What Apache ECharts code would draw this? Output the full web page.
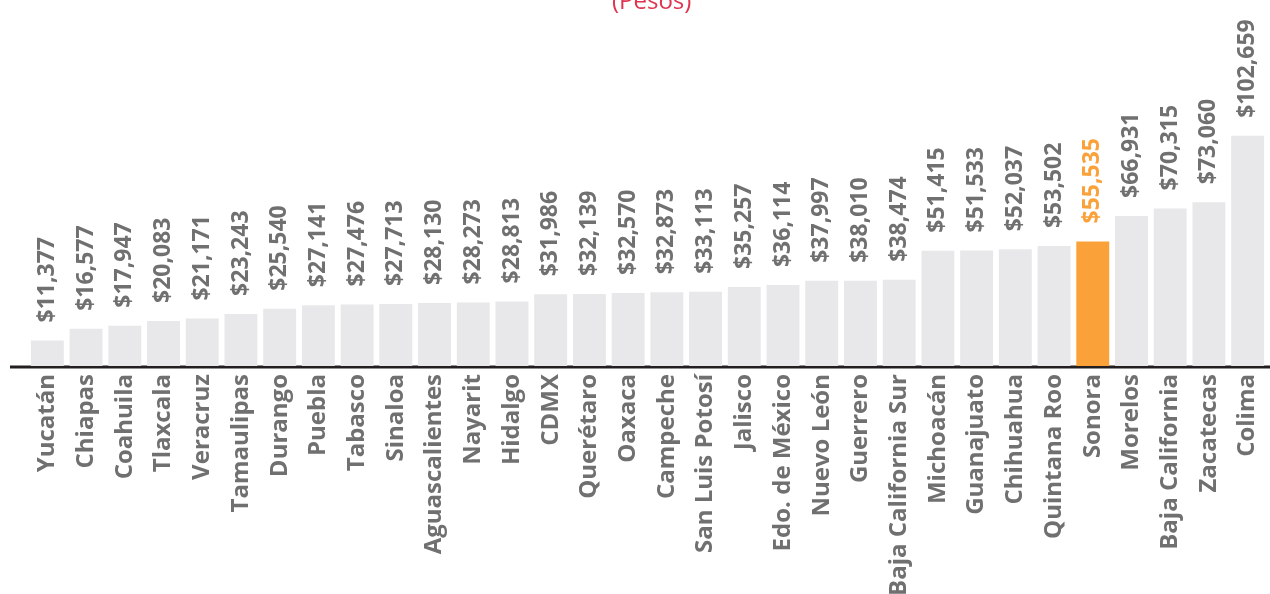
<!DOCTYPE html>
<html><head><meta charset="utf-8">
<script src="https://cdn.jsdelivr.net/npm/echarts@6/dist/echarts.min.js"></script>
<style>html,body{margin:0;padding:0;background:#fff}#c{width:1270px;height:594px}</style>
</head><body><div id="c"></div>
<script>
const categories = ["Yucatán","Chiapas","Coahuila","Tlaxcala","Veracruz","Tamaulipas","Durango","Puebla","Tabasco","Sinaloa","Aguascalientes","Nayarit","Hidalgo","CDMX","Querétaro","Oaxaca","Campeche","San Luis Potosí","Jalisco","Edo. de México","Nuevo León","Guerrero","Baja California Sur","Michoacán","Guanajuato","Chihuahua","Quintana Roo","Sonora","Morelos","Baja California","Zacatecas","Colima"];
const values = [11377,16577,17947,20083,21171,23243,25540,27141,27476,27713,28130,28273,28813,31986,32139,32570,32873,33113,35257,36114,37997,38010,38474,51415,51533,52037,53502,55535,66931,70315,73060,102659];
const highlight = "Sonora";
const titleText = "(Pesos)";

const font = "Open Sans";
const grey = "#707070";
const chart = echarts.init(document.getElementById('c'));
const data = values.map((v,i)=>{
  const hi = categories[i]===highlight;
  return {value:v,
    itemStyle:{color: hi ? "#fba13a" : "#e8e8ea"},
    label:{color: hi ? "#fba13a" : grey}};
});
chart.setOption({
  animation:false,
  title:{text:titleText,left:607,top:-15,textStyle:{color:'#e0334f',fontFamily:font,fontSize:24,fontWeight:'normal'}},
  grid:{left:28,right:3,top:97,bottom:228,containLabel:false,outerBoundsMode:'none'},
  xAxis:{type:'category',data:categories,
    axisLine:{show:false},axisTick:{show:false},
    axisLabel:{rotate:90,interval:0,color:grey,fontFamily:font,fontWeight:'bold',fontSize:24,margin:8}},
  yAxis:{type:'value',min:0,max:120000,show:false,splitLine:{show:false}},
  series:[{type:'bar',data:data,barCategoryGap:'15%',
    label:{show:true,position:'top',rotate:90,align:'left',verticalAlign:'middle',distance:18,
      fontFamily:font,fontWeight:'bold',fontSize:23,
      formatter:p=>'$'+p.value.toLocaleString('en-US')}}],
  graphic:[{type:'line',shape:{x1:10,y1:367,x2:1270,y2:367},style:{stroke:'#231f20',lineWidth:3}}]
});
</script></body></html>
